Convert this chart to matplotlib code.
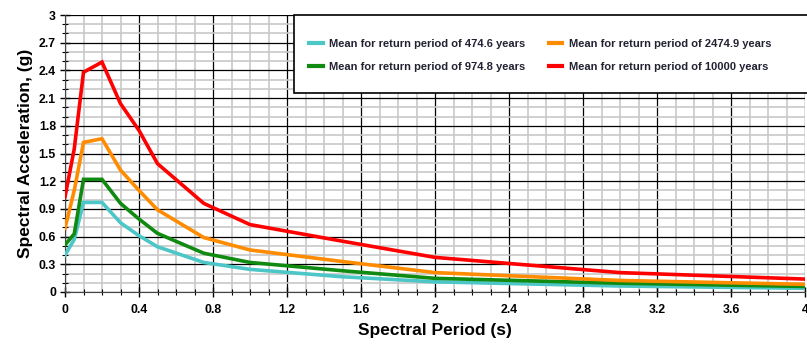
import numpy as np
import matplotlib
matplotlib.use('Agg')
import matplotlib.pyplot as plt
from matplotlib.patches import Rectangle
from matplotlib.ticker import MultipleLocator

plt.rcParams['font.family'] = ['Liberation Sans', 'DejaVu Sans']
plt.rcParams['font.weight'] = 'bold'

# spectral periods (s)
periods = [0, 0.05, 0.1, 0.2, 0.3, 0.4, 0.5, 0.75, 1.0, 1.5, 2.0, 3.0, 4.0]

# mean spectral acceleration (g) per return period
sa_474 = [0.40, 0.57, 0.97, 0.97, 0.75, 0.61, 0.49, 0.32, 0.245, 0.165, 0.11, 0.065, 0.04]
sa_974 = [0.51, 0.63, 1.22, 1.22, 0.96, 0.79, 0.635, 0.42, 0.32, 0.23, 0.148, 0.095, 0.06]
sa_2474 = [0.69, 1.10, 1.62, 1.66, 1.32, 1.10, 0.89, 0.59, 0.455, 0.33, 0.21, 0.125, 0.083]
sa_10000 = [1.03, 1.55, 2.38, 2.49, 2.04, 1.75, 1.39, 0.96, 0.73, 0.55, 0.375, 0.21, 0.14]

labels = ['Mean for return period of 474.6 years',
          'Mean for return period of 974.8 years',
          'Mean for return period of 2474.9 years',
          'Mean for return period of 10000 years']
colors = ['#4cc6c6', '#108a10', '#ff8c00', '#ff0000']

fig = plt.figure(figsize=(8.07, 3.51), dpi=100)
ax = fig.add_axes([65 / 807, 59 / 351, 740 / 807, 277 / 351])

for ys, c, lab in zip([sa_474, sa_974, sa_2474, sa_10000], colors, labels):
    ax.plot(periods, ys, color=c, lw=2.6, label=lab, zorder=3, solid_joinstyle='miter')

ax.set_xlim(0, 4)
ax.set_ylim(0, 3)
ax.xaxis.set_minor_locator(MultipleLocator(0.1))
ax.yaxis.set_minor_locator(MultipleLocator(0.1))
ax.set_xticks(np.arange(0, 4.01, 0.4))
ax.set_xticklabels(['0', '0.4', '0.8', '1.2', '1.6', '2', '2.4', '2.8', '3.2', '3.6', '4'])
ax.set_yticks(np.arange(0, 3.01, 0.3))
ax.set_yticklabels(['0', '0.3', '0.6', '0.9', '1.2', '1.5', '1.8', '2.1', '2.4', '2.7', '3'])

ax.grid(which='minor', color='#c8c8c8', lw=1.2, zorder=0)
ax.grid(which='major', color='black', lw=0.9, zorder=1)
ax.set_axisbelow(True)

ax.tick_params(which='major', direction='inout', length=7, width=1, labelsize=8.8, pad=3)
ax.tick_params(axis='x', which='major', pad=5)
ax.tick_params(which='minor', direction='inout', length=4, width=0.8)
for lab in ax.get_xticklabels() + ax.get_yticklabels():
    lab.set_fontweight('bold')

for s in ['top', 'right']:
    ax.spines[s].set_visible(False)
ax.spines['left'].set_color('#444444')
ax.spines['bottom'].set_color('#444444')

ax.set_xlabel('Spectral Period (s)', fontsize=12.5, fontweight='bold', labelpad=5)
ax.set_ylabel('Spectral Acceleration, (g)', fontsize=12.5, fontweight='bold', labelpad=4)

# legend box
box = Rectangle((0.3095, 0.718), 0.75, 0.282, transform=ax.transAxes,
                facecolor='white', edgecolor='black', lw=1.2, zorder=5, clip_on=False)
ax.add_patch(box)
leg = ax.legend(loc='upper left', bbox_to_anchor=(0.33, 0.912), ncol=2, frameon=False,
                fontsize=8, handlelength=1.2, handletextpad=0.6, columnspacing=2.1,
                labelspacing=1.1, borderaxespad=0, borderpad=0)
leg.set_zorder(6)
for h in leg.get_lines():
    h.set_linewidth(3)
for t in leg.get_texts():
    t.set_fontweight('bold')
    t.set_color('#222233')

fig.savefig('out.png', dpi=100)
